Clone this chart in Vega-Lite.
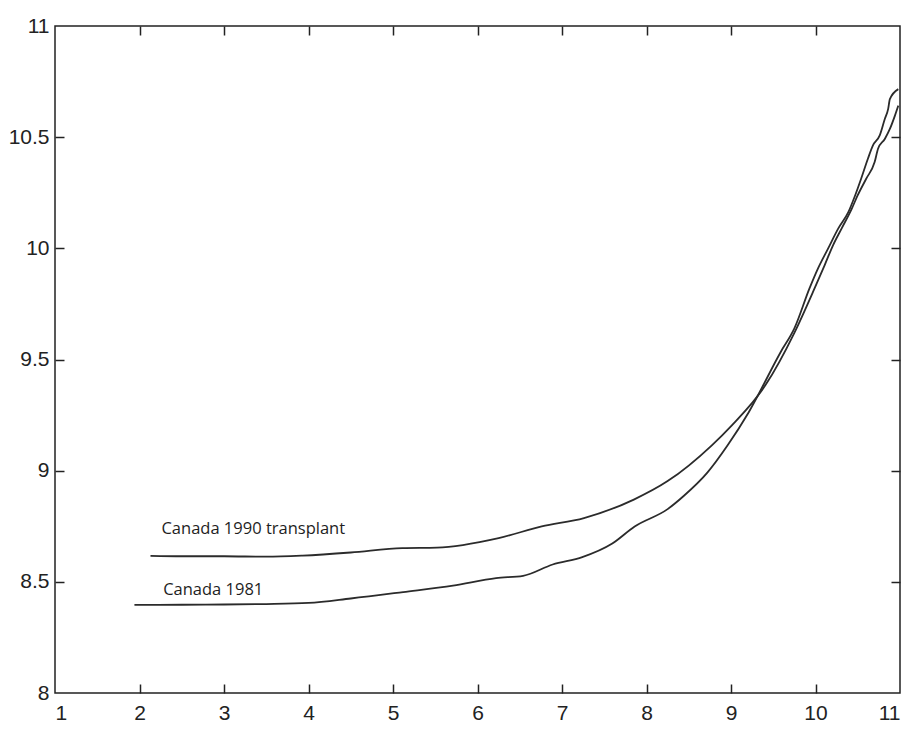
{
  "$schema": "https://vega.github.io/schema/vega-lite/v6.json",
  "width": 845,
  "height": 667,
  "autosize": {"type": "none"},
  "padding": {"left": 55, "top": 26, "right": 8, "bottom": 40},
  "background": "white",
  "config": {
    "view": {"stroke": "#222222", "strokeWidth": 1.5},
    "axis": {
      "grid": false,
      "domain": false,
      "tickColor": "#222222",
      "tickWidth": 1.5,
      "tickSize": 9,
      "labelFont": "Liberation Sans",
      "labelFontSize": 21,
      "labelColor": "#222222",
      "title": null
    }
  },
  "datasets": {
    "curves": [
      {"series": "1990", "x": 2.13, "y": 8.617},
      {"series": "1990", "x": 2.5, "y": 8.615},
      {"series": "1990", "x": 3.0, "y": 8.615},
      {"series": "1990", "x": 3.5, "y": 8.613},
      {"series": "1990", "x": 3.93, "y": 8.618},
      {"series": "1990", "x": 4.5, "y": 8.632},
      {"series": "1990", "x": 5.11, "y": 8.652},
      {"series": "1990", "x": 5.52, "y": 8.654},
      {"series": "1990", "x": 6.25, "y": 8.697},
      {"series": "1990", "x": 6.76, "y": 8.749},
      {"series": "1990", "x": 7.26, "y": 8.787},
      {"series": "1990", "x": 7.85, "y": 8.87},
      {"series": "1990", "x": 8.25, "y": 8.953},
      {"series": "1990", "x": 8.77, "y": 9.113},
      {"series": "1990", "x": 9.01, "y": 9.204},
      {"series": "1990", "x": 9.41, "y": 9.386},
      {"series": "1990", "x": 9.75, "y": 9.62},
      {"series": "1990", "x": 9.99, "y": 9.821},
      {"series": "1990", "x": 10.11, "y": 9.926},
      {"series": "1990", "x": 10.21, "y": 10.016},
      {"series": "1990", "x": 10.31, "y": 10.09},
      {"series": "1990", "x": 10.43, "y": 10.179},
      {"series": "1990", "x": 10.5, "y": 10.239},
      {"series": "1990", "x": 10.6, "y": 10.313},
      {"series": "1990", "x": 10.7, "y": 10.388},
      {"series": "1990", "x": 10.74, "y": 10.448},
      {"series": "1990", "x": 10.82, "y": 10.492},
      {"series": "1990", "x": 10.88, "y": 10.537},
      {"series": "1990", "x": 10.94, "y": 10.597},
      {"series": "1990", "x": 10.98, "y": 10.642},
      {"series": "1981", "x": 1.94, "y": 8.396},
      {"series": "1981", "x": 2.5, "y": 8.397},
      {"series": "1981", "x": 3.0, "y": 8.398},
      {"series": "1981", "x": 3.5, "y": 8.4},
      {"series": "1981", "x": 4.0, "y": 8.405},
      {"series": "1981", "x": 4.5, "y": 8.425},
      {"series": "1981", "x": 5.12, "y": 8.454},
      {"series": "1981", "x": 5.71, "y": 8.483},
      {"series": "1981", "x": 6.22, "y": 8.517},
      {"series": "1981", "x": 6.54, "y": 8.527},
      {"series": "1981", "x": 6.89, "y": 8.578},
      {"series": "1981", "x": 7.24, "y": 8.611},
      {"series": "1981", "x": 7.59, "y": 8.671},
      {"series": "1981", "x": 7.86, "y": 8.749},
      {"series": "1981", "x": 8.25, "y": 8.827},
      {"series": "1981", "x": 8.44, "y": 8.886},
      {"series": "1981", "x": 8.72, "y": 8.991},
      {"series": "1981", "x": 8.96, "y": 9.114},
      {"series": "1981", "x": 9.21, "y": 9.263},
      {"series": "1981", "x": 9.59, "y": 9.535},
      {"series": "1981", "x": 9.75, "y": 9.64},
      {"series": "1981", "x": 9.93, "y": 9.821},
      {"series": "1981", "x": 10.03, "y": 9.91},
      {"series": "1981", "x": 10.15, "y": 10.0},
      {"series": "1981", "x": 10.27, "y": 10.09},
      {"series": "1981", "x": 10.39, "y": 10.164},
      {"series": "1981", "x": 10.47, "y": 10.239},
      {"series": "1981", "x": 10.54, "y": 10.313},
      {"series": "1981", "x": 10.62, "y": 10.403},
      {"series": "1981", "x": 10.68, "y": 10.463},
      {"series": "1981", "x": 10.76, "y": 10.508},
      {"series": "1981", "x": 10.82, "y": 10.582},
      {"series": "1981", "x": 10.86, "y": 10.627},
      {"series": "1981", "x": 10.88, "y": 10.671},
      {"series": "1981", "x": 10.98, "y": 10.716}
    ],
    "labels": [
      {"label": "Canada 1990 transplant", "x": 2.26, "y": 8.713},
      {"label": "Canada 1981", "x": 2.28, "y": 8.441}
    ]
  },
  "layer": [
    {
      "data": {"name": "curves"},
      "mark": {"type": "line", "color": "#2b2b2b", "strokeWidth": 1.8, "interpolate": "monotone"},
      "encoding": {
        "x": {
          "field": "x", "type": "quantitative",
          "scale": {"domain": [1, 11], "nice": false, "zero": false},
          "axis": {"orient": "bottom", "values": [1,2,3,4,5,6,7,8,9,10,11], "ticks": false, "labelPadding": 9, "format": "~g"}
        },
        "y": {
          "field": "y", "type": "quantitative",
          "scale": {"domain": [8, 11], "nice": false, "zero": false},
          "axis": {"orient": "left", "values": [8,8.5,9,9.5,10,10.5,11], "ticks": false, "labelPadding": 6, "format": "~g"}
        },
        "detail": {"field": "series"}
      }
    },
    {
      "data": {"name": "curves"},
      "mark": {"type": "line", "opacity": 0},
      "encoding": {
        "x": {
          "field": "x", "type": "quantitative",
          "axis": {"orient": "top", "offset": -9, "values": [2,3,4,5,6,7,8,9,10], "labels": false}
        },
        "y": {
          "field": "y", "type": "quantitative",
          "axis": {"orient": "right", "offset": -9, "values": [8.5,9,9.5,10,10.5], "labels": false}
        },
        "detail": {"field": "series"}
      }
    },
    {
      "data": {"name": "curves"},
      "mark": {"type": "line", "opacity": 0},
      "encoding": {
        "x": {
          "field": "x", "type": "quantitative",
          "axis": {"orient": "bottom", "offset": -9, "values": [2,3,4,5,6,7,8,9,10], "labels": false}
        },
        "y": {
          "field": "y", "type": "quantitative",
          "axis": {"orient": "left", "offset": -9, "values": [8.5,9,9.5,10,10.5], "labels": false}
        },
        "detail": {"field": "series"}
      }
    },
    {
      "data": {"name": "labels"},
      "mark": {"type": "text", "align": "left", "baseline": "alphabetic", "font": "Open Sans", "fontSize": 16.5, "color": "#1e1e1e"},
      "encoding": {
        "x": {"field": "x", "type": "quantitative", "axis": null},
        "y": {"field": "y", "type": "quantitative", "axis": null},
        "text": {"field": "label"}
      }
    }
  ],
  "resolve": {"axis": {"x": "independent", "y": "independent"}}
}
